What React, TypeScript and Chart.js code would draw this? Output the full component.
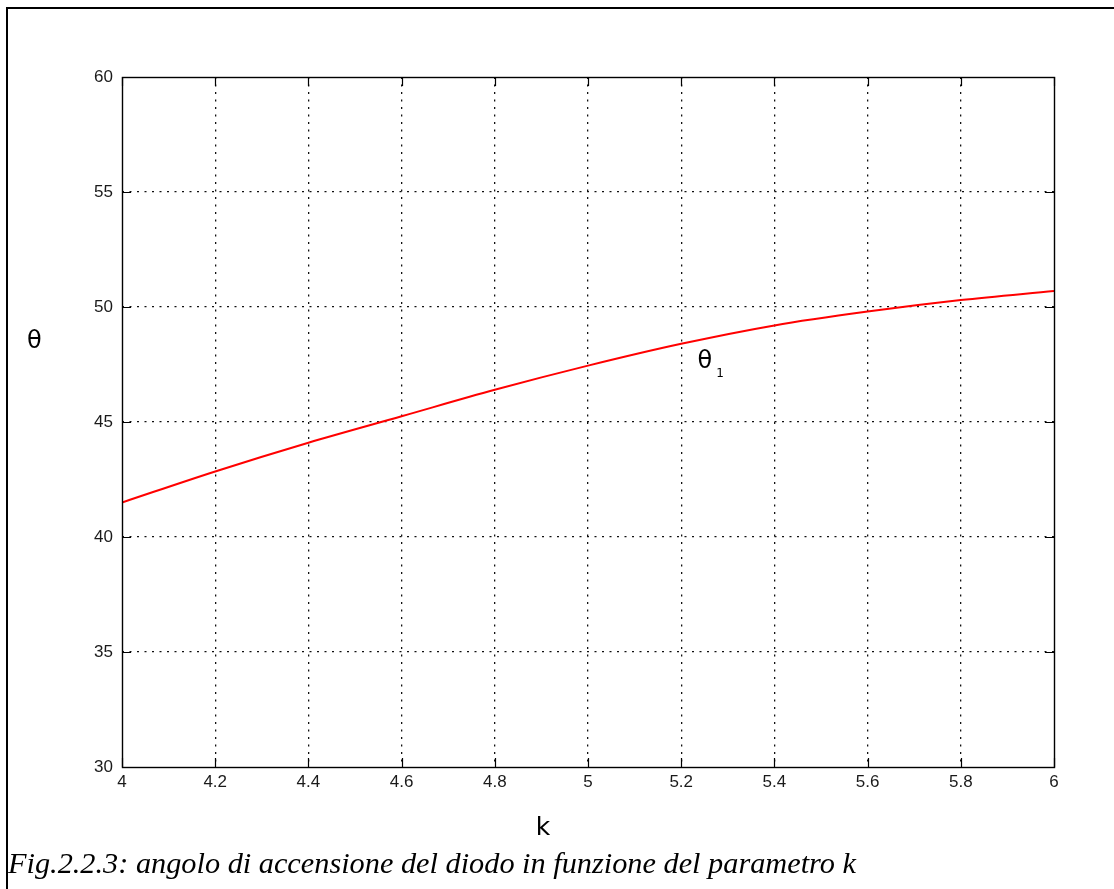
import React, { useEffect, useRef } from "react";
import { Chart, registerables } from "chart.js";

Chart.register(...registerables);

const kValues = [4.0, 4.2, 4.4, 4.6, 4.8, 5.0, 5.2, 5.4, 5.6, 5.8, 6.0];
const theta1 = [41.5, 42.85, 44.1, 45.25, 46.4, 47.45, 48.4, 49.2, 49.8, 50.3, 50.7];
const xTickStep = 0.2;
const yTickStep = 5;
const xRange = [4, 6];
const yRange = [30, 60];
const seriesLabel = "θ";
const seriesSub = "1";
const seriesLabelPos = { x: 5.235, y: 47.6 };
const yTitle = "θ";
const xTitle = "k";
const caption = "Fig.2.2.3: angolo di accensione del diodo in funzione del parametro k";

const W = 1114;
const H = 889;

const gridColor = (c: any) => {
  const n = c.scale && c.scale.ticks ? c.scale.ticks.length : 0;
  return c.index === 0 || c.index === n - 1 ? "rgba(0,0,0,0)" : "#111";
};

const overlay = {
  id: "overlay",
  afterDraw(chart: any) {
    const { ctx, chartArea: a, scales } = chart;
    const xs = scales.x;
    const ys = scales.y;
    ctx.save();
    ctx.setLineDash([]);
    ctx.strokeStyle = "#000";
    ctx.lineWidth = 1.4;
    ctx.strokeRect(Math.round(a.left) + 0.5, Math.round(a.top) + 0.5, Math.round(a.right - a.left), Math.round(a.bottom - a.top));
    ctx.lineWidth = 1.2;
    const tl = 9;
    ctx.beginPath();
    xs.ticks.forEach((t: any) => {
      const px = Math.round(xs.getPixelForValue(t.value)) + 0.5;
      ctx.moveTo(px, a.bottom);
      ctx.lineTo(px, a.bottom - tl);
      ctx.moveTo(px, a.top);
      ctx.lineTo(px, a.top + tl);
    });
    ys.ticks.forEach((t: any) => {
      const py = Math.round(ys.getPixelForValue(t.value)) + 0.5;
      ctx.moveTo(a.left, py);
      ctx.lineTo(a.left + tl, py);
      ctx.moveTo(a.right, py);
      ctx.lineTo(a.right - tl, py);
    });
    ctx.stroke();

    ctx.fillStyle = "#000";
    ctx.textBaseline = "alphabetic";
    ctx.textAlign = "left";
    ctx.font = "24px 'DejaVu Sans'";
    ctx.fillText(yTitle, 27, 348);
    ctx.font = "25px 'DejaVu Sans'";
    ctx.textAlign = "center";
    ctx.fillText(xTitle, (a.left + a.right) / 2 - 45, 835);

    const lx = xs.getPixelForValue(seriesLabelPos.x);
    const ly = ys.getPixelForValue(seriesLabelPos.y);
    ctx.textAlign = "left";
    ctx.textBaseline = "middle";
    ctx.font = "24px 'DejaVu Sans'";
    ctx.fillText(seriesLabel, lx, ly);
    const w = ctx.measureText(seriesLabel).width;
    ctx.font = "12px 'DejaVu Sans'";
    ctx.textBaseline = "alphabetic";
    ctx.fillText(seriesSub, lx + w + 4, ly + 15);
    ctx.restore();
  },
};

export default function App() {
  const ref = useRef<HTMLCanvasElement | null>(null);
  useEffect(() => {
    if (!ref.current) return;
    const chart = new Chart(ref.current, {
      type: "line",
      data: {
        datasets: [
          {
            data: kValues.map((k, i) => ({ x: k, y: theta1[i] })),
            borderColor: "#ff0000",
            borderWidth: 2,
            pointRadius: 0,
            cubicInterpolationMode: "monotone",
            fill: false,
          },
        ],
      },
      options: {
        animation: false,
        responsive: false,
        devicePixelRatio: 1,
        layout: { padding: { left: 0, top: 77, right: 60, bottom: 0 } },
        plugins: { legend: { display: false }, tooltip: { enabled: false } },
        scales: {
          x: {
            type: "linear",
            min: xRange[0],
            max: xRange[1],
            afterFit: (s: any) => {
              s.height = 122;
            },
            border: { display: false, dash: [2, 5.5] },
            grid: { color: gridColor, lineWidth: 1.3, drawTicks: false },
            ticks: {
              stepSize: xTickStep,
              padding: 5,
              color: "#1a1a1a",
              font: { family: "'Liberation Sans'", size: 17 },
              callback: (v: any) => String(Number(Number(v).toFixed(1))),
            },
          },
          y: {
            type: "linear",
            min: yRange[0],
            max: yRange[1],
            afterFit: (s: any) => {
              s.width = 122;
            },
            border: { display: false, dash: [2, 5.5] },
            grid: { color: gridColor, lineWidth: 1.3, drawTicks: false },
            ticks: {
              stepSize: yTickStep,
              padding: 9,
              color: "#1a1a1a",
              font: { family: "'Liberation Sans'", size: 17 },
            },
          },
        },
      },
      plugins: [overlay],
    } as any);
    return () => chart.destroy();
  }, []);

  return (
    <div style={{ position: "absolute", left: 0, top: 0, width: W, height: H, overflow: "hidden", background: "#fff" }}>
      <div
        style={{
          position: "absolute",
          left: 6,
          top: 7,
          width: W,
          height: H,
          borderTop: "2px solid #000",
          borderLeft: "2px solid #000",
        }}
      />
      <canvas ref={ref} width={W} height={H} style={{ position: "absolute", left: 0, top: 0, width: W, height: H }} />
      <div
        style={{
          position: "absolute",
          left: 8,
          top: 845,
          fontFamily: "'Liberation Serif'",
          fontStyle: "italic",
          fontSize: 30.3,
          lineHeight: "36px",
          color: "#000",
          whiteSpace: "nowrap",
        }}
      >
        {caption}
      </div>
    </div>
  );
}
